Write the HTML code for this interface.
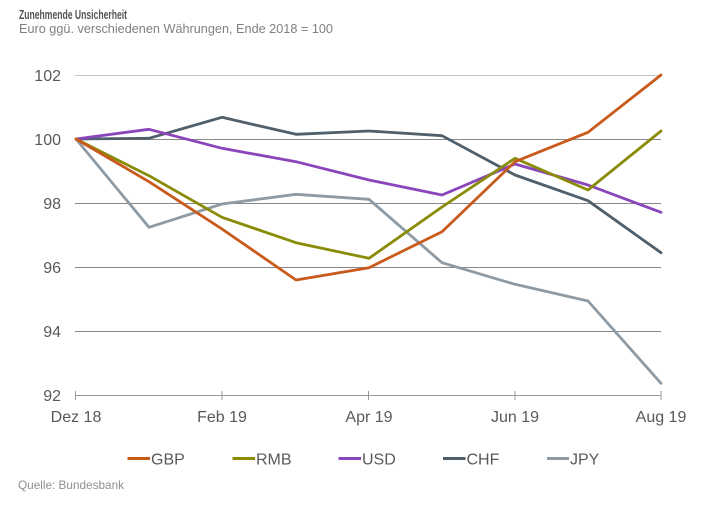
<!DOCTYPE html>
<html><head><meta charset="utf-8">
<style>
html,body{margin:0;padding:0;background:#fff;}
svg{display:block;}
</style></head>
<body>
<svg width="710" height="514" viewBox="0 0 710 514" xmlns="http://www.w3.org/2000/svg">
<rect width="710" height="514" fill="#fff"/>
<text x="19" y="19" font-family="Liberation Sans, sans-serif" font-size="12.5" font-weight="bold" fill="#555" textLength="108" lengthAdjust="spacingAndGlyphs">Zunehmende Unsicherheit</text>
<text x="19" y="33" font-family="Liberation Sans, sans-serif" font-size="13" fill="#808080" textLength="314" lengthAdjust="spacingAndGlyphs">Euro ggü. verschiedenen Währungen, Ende 2018 = 100</text>

<g stroke-width="1" fill="none">
<line x1="75" y1="75.5" x2="661" y2="75.5" stroke="#c4c4c4"/>
<line x1="75" y1="139.5" x2="661" y2="139.5" stroke="#888"/>
<line x1="75" y1="203.5" x2="661" y2="203.5" stroke="#888"/>
<line x1="75" y1="267.5" x2="661" y2="267.5" stroke="#888"/>
<line x1="75" y1="331.5" x2="661" y2="331.5" stroke="#888"/>
<line x1="75" y1="395.5" x2="661" y2="395.5" stroke="#999"/>
<line x1="75.5" y1="391" x2="75.5" y2="400" stroke="#999"/>
<line x1="222" y1="391" x2="222" y2="400" stroke="#999"/>
<line x1="368.5" y1="391" x2="368.5" y2="400" stroke="#999"/>
<line x1="515" y1="391" x2="515" y2="400" stroke="#999"/>
<line x1="661" y1="391" x2="661" y2="400" stroke="#999"/>
</g>

<g font-family="Liberation Sans, sans-serif" font-size="16" fill="#595959" text-anchor="end">
<text x="61" y="81">102</text>
<text x="61" y="145">100</text>
<text x="61" y="209">98</text>
<text x="61" y="273">96</text>
<text x="61" y="337">94</text>
<text x="61" y="401">92</text>
</g>
<g font-family="Liberation Sans, sans-serif" font-size="16" fill="#595959" text-anchor="middle">
<text x="76" y="422">Dez 18</text>
<text x="222" y="422">Feb 19</text>
<text x="369" y="422">Apr 19</text>
<text x="515" y="422">Jun 19</text>
<text x="661" y="422">Aug 19</text>
</g>

<g fill="none" stroke-width="2.8" stroke-linejoin="round" stroke-linecap="round">
<polyline stroke="#8e9ba5" points="76,139 149,227.3 222,204 296,194.3 369,199.3 442,262.7 515,284.3 588,301 661,383.3"/>
<polyline stroke="#4f5f6b" points="76,139 149,138.3 222,117.3 296,134.3 369,131 442,135.7 515,175 588,200.7 661,252.7"/>
<polyline stroke="#8a45bb" points="76,139 149,129.3 222,148.3 296,161.7 369,180 442,195 515,164 588,185 661,212.3"/>
<polyline stroke="#8a8c08" points="76,139 149,175.7 222,217.3 296,242.7 369,258.3 442,207 515,158.3 588,190 661,131"/>
<polyline stroke="#c85a1c" points="76,139 149,181.7 222,229 296,280 369,267.7 442,231.7 515,161.7 588,132.3 661,75"/>
</g>

<g stroke-width="3">
<line x1="127.5" y1="458.5" x2="150" y2="458.5" stroke="#c85a1c"/>
<line x1="232.5" y1="458.5" x2="255" y2="458.5" stroke="#8a8c08"/>
<line x1="338.5" y1="458.5" x2="361" y2="458.5" stroke="#8a45bb"/>
<line x1="443" y1="458.5" x2="465.5" y2="458.5" stroke="#4f5f6b"/>
<line x1="547" y1="458.5" x2="569" y2="458.5" stroke="#8e9ba5"/>
</g>
<g font-family="Liberation Sans, sans-serif" font-size="16" fill="#595959">
<text x="151" y="464.5">GBP</text>
<text x="256" y="464.5">RMB</text>
<text x="362" y="464.5">USD</text>
<text x="466.5" y="464.5">CHF</text>
<text x="570" y="464.5">JPY</text>
</g>

<text x="18" y="489" font-family="Liberation Sans, sans-serif" font-size="12" fill="#8f8f8f" textLength="106" lengthAdjust="spacingAndGlyphs">Quelle: Bundesbank</text>
</svg>
</body></html>
